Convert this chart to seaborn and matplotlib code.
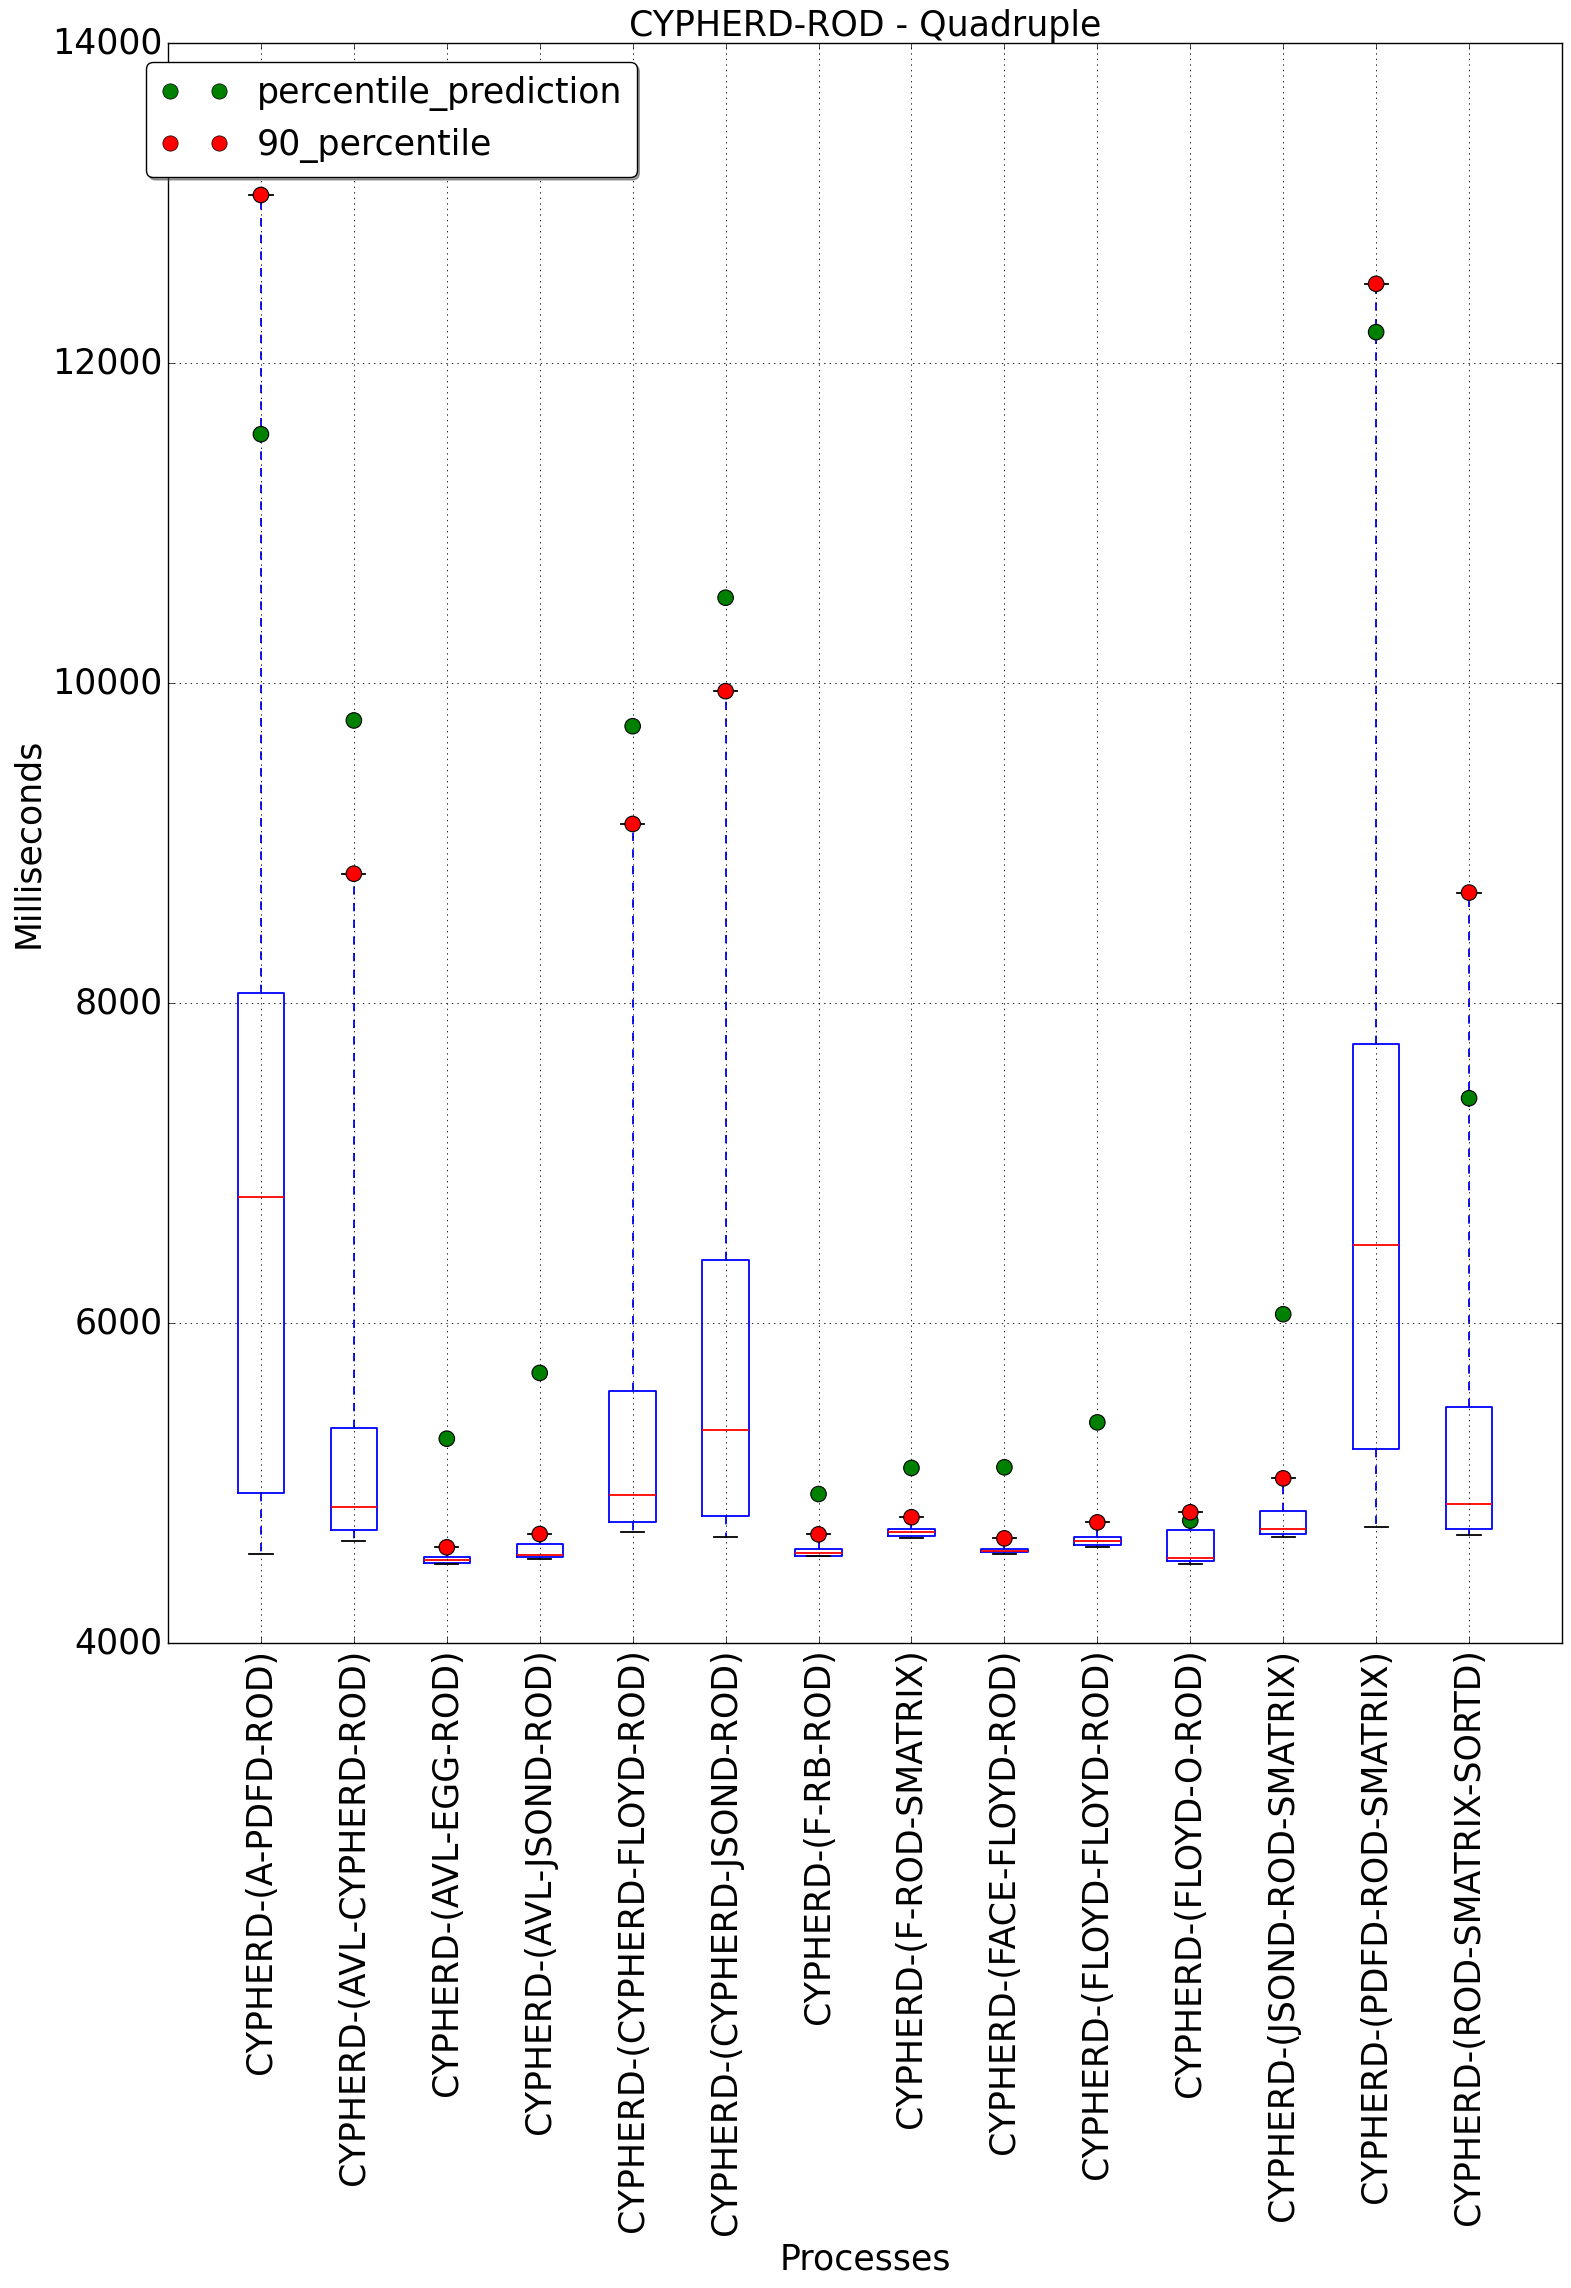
import matplotlib
matplotlib.use("Agg")
import matplotlib.pyplot as plt
import seaborn as sns
import pandas as pd
from matplotlib.lines import Line2D

processes = [
    "CYPHERD-(A-PDFD-ROD)",
    "CYPHERD-(AVL-CYPHERD-ROD)",
    "CYPHERD-(AVL-EGG-ROD)",
    "CYPHERD-(AVL-JSOND-ROD)",
    "CYPHERD-(CYPHERD-FLOYD-ROD)",
    "CYPHERD-(CYPHERD-JSOND-ROD)",
    "CYPHERD-(F-RB-ROD)",
    "CYPHERD-(F-ROD-SMATRIX)",
    "CYPHERD-(FACE-FLOYD-ROD)",
    "CYPHERD-(FLOYD-FLOYD-ROD)",
    "CYPHERD-(FLOYD-O-ROD)",
    "CYPHERD-(JSOND-ROD-SMATRIX)",
    "CYPHERD-(PDFD-ROD-SMATRIX)",
    "CYPHERD-(ROD-SMATRIX-SORTD)",
]
whisker_low = [4555, 4637, 4492, 4523, 4692, 4661, 4542, 4654, 4554, 4598, 4493, 4660, 4723, 4673]
q1 = [4937, 4704, 4502, 4536, 4756, 4792, 4546, 4671, 4567, 4611, 4510, 4679, 5211, 4711]
median = [6787, 4848, 4517, 4548, 4925, 5332, 4565, 4692, 4575, 4640, 4529, 4711, 6487, 4867]
q3 = [8061, 5341, 4537, 4617, 5573, 6392, 4587, 4711, 4585, 4660, 4704, 4823, 7742, 5473]
whisker_high = [13050, 8808, 4598, 4681, 9119, 9949, 4679, 4786, 4654, 4754, 4817, 5029, 12495, 8690]
percentile_prediction = [11555, 9766, 5277, 5688, 9730, 10533, 4931, 5094, 5098, 5379, 4765, 6055, 12193, 7405]
percentile_90 = [13050, 8808, 4598, 4681, 9119, 9949, 4679, 4786, 4654, 4754, 4817, 5029, 12495, 8690]

plt.style.use("classic")
plt.rcParams.update({
    "font.family": ["DejaVu Sans"],
    "font.size": 25,
    "figure.facecolor": "white",
    "savefig.facecolor": "white",
})

fig = plt.figure(figsize=(15.71, 22.88), dpi=100)
ax = fig.add_axes([168 / 1571, 1 - 1643 / 2288, (1562 - 168) / 1571, (1643 - 43) / 2288])

positions = list(range(1, len(processes) + 1))
stats = []
for i, name in enumerate(processes):
    stats.append(dict(label=name, whislo=whisker_low[i], q1=q1[i], med=median[i],
                      q3=q3[i], whishi=whisker_high[i], fliers=[]))

ax.bxp(stats, positions=positions, widths=0.5, showfliers=False,
       boxprops=dict(color="blue", linewidth=1.3),
       whiskerprops=dict(color="blue", linestyle="--", linewidth=1.3),
       capprops=dict(color="black", linewidth=1.3),
       medianprops=dict(color="red", linewidth=1.3))

df = pd.DataFrame({
    "pos": positions * 2,
    "value": percentile_prediction + percentile_90,
    "series": ["percentile_prediction"] * len(processes) + ["90_percentile"] * len(processes),
})
sns.scatterplot(data=df, x="pos", y="value", hue="series",
                palette={"percentile_prediction": "green", "90_percentile": "red"},
                s=125, edgecolor="black", linewidth=0.8, zorder=5, ax=ax, legend=False)

handles = [Line2D([], [], linestyle="none", marker="o", markersize=11,
                  markerfacecolor=c, markeredgecolor="black") for c in ("green", "red")]
fig.legend(handles, ["percentile_prediction", "90_percentile"], numpoints=2,
           loc="upper left", bbox_to_anchor=(146 / 1571, 1 - 62 / 2288),
           borderaxespad=0, fancybox=True, shadow=True, fontsize=25)

ax.set_xlim(0, 15)
ax.set_ylim(4000, 14000)
ax.set_xticks(positions)
ax.set_xticklabels(processes, rotation=90)
ax.grid(True, color="black", linestyle=":", linewidth=0.6)
ax.set_title("CYPHERD-ROD - Quadruple", fontsize=25)
ax.set_xlabel("Processes")
ax.set_ylabel("Milliseconds")

fig.savefig("out.png", dpi=100)
